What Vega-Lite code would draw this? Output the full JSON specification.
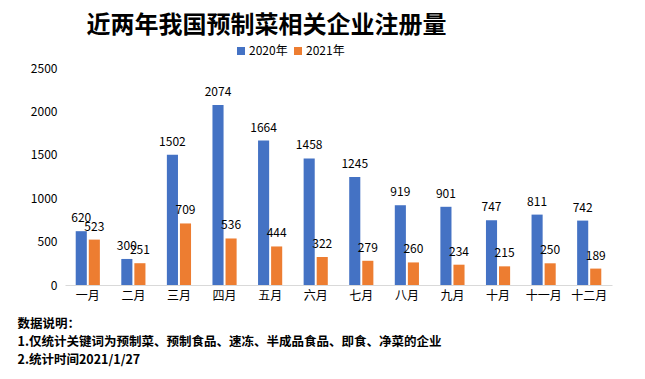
{
  "$schema": "https://vega.github.io/schema/vega-lite/v6.json",
  "width": 547,
  "height": 217,
  "autosize": {"type": "none"},
  "padding": {"left": 65, "top": 68, "right": 33, "bottom": 94},
  "background": "white",
  "config": {
    "font": "Noto Sans CJK SC",
    "view": {"stroke": null}
  },
  "title": {
    "text": "近两年我国预制菜相关企业注册量",
    "fontSize": 24,
    "fontWeight": "bold",
    "color": "#000000",
    "anchor": "middle",
    "dx": -72,
    "offset": 7
  },
  "data": {
    "values": [
      {"month": "一月", "series": "2020年", "value": 620},
      {"month": "二月", "series": "2020年", "value": 300},
      {"month": "三月", "series": "2020年", "value": 1502},
      {"month": "四月", "series": "2020年", "value": 2074},
      {"month": "五月", "series": "2020年", "value": 1664},
      {"month": "六月", "series": "2020年", "value": 1458},
      {"month": "七月", "series": "2020年", "value": 1245},
      {"month": "八月", "series": "2020年", "value": 919},
      {"month": "九月", "series": "2020年", "value": 901},
      {"month": "十月", "series": "2020年", "value": 747},
      {"month": "十一月", "series": "2020年", "value": 811},
      {"month": "十二月", "series": "2020年", "value": 742},
      {"month": "一月", "series": "2021年", "value": 523},
      {"month": "二月", "series": "2021年", "value": 251},
      {"month": "三月", "series": "2021年", "value": 709},
      {"month": "四月", "series": "2021年", "value": 536},
      {"month": "五月", "series": "2021年", "value": 444},
      {"month": "六月", "series": "2021年", "value": 322},
      {"month": "七月", "series": "2021年", "value": 279},
      {"month": "八月", "series": "2021年", "value": 260},
      {"month": "九月", "series": "2021年", "value": 234},
      {"month": "十月", "series": "2021年", "value": 215},
      {"month": "十一月", "series": "2021年", "value": 250},
      {"month": "十二月", "series": "2021年", "value": 189}
    ]
  },
  "encoding": {
    "x": {
      "field": "month",
      "type": "nominal",
      "sort": ["一月", "二月", "三月", "四月", "五月", "六月", "七月", "八月", "九月", "十月", "十一月", "十二月"],
      "scale": {"paddingInner": 0.47, "paddingOuter": 0.235},
      "axis": {
        "title": ["数据说明：", "1.仅统计关键词为预制菜、预制食品、速冻、半成品食品、即食、净菜的企业", "2.统计时间2021/1/27"],
        "titleFontSize": 12.5,
        "titleFontWeight": "bold",
        "titleColor": "#000000",
        "titleAlign": "left",
        "titleAnchor": "start",
        "titleBaseline": "top",
        "titleX": -48,
        "titleY": 32,
        "titleLineHeight": 18,
        "labelAngle": 0,
        "labelFontSize": 12,
        "labelColor": "#000000",
        "labelPadding": 5,
        "ticks": false,
        "domainColor": "#d9d9d9",
        "domainWidth": 1
      }
    },
    "xOffset": {
      "field": "series",
      "type": "nominal",
      "scale": {"paddingInner": 0.15}
    },
    "y": {
      "field": "value",
      "type": "quantitative",
      "scale": {"domain": [0, 2500]},
      "axis": {
        "title": null,
        "values": [0, 500, 1000, 1500, 2000, 2500],
        "format": "d",
        "grid": false,
        "domain": false,
        "ticks": false,
        "labelFontSize": 12,
        "labelColor": "#000000",
        "labelPadding": 8
      }
    }
  },
  "layer": [
    {
      "mark": {"type": "bar"},
      "encoding": {
        "color": {
          "field": "series",
          "type": "nominal",
          "scale": {"domain": ["2020年", "2021年"], "range": ["#4472C4", "#ED7D31"]},
          "legend": {
            "title": null,
            "orient": "none",
            "direction": "horizontal",
            "legendX": 170,
            "legendY": -23,
            "symbolType": "square",
            "symbolSize": 64,
            "symbolStrokeWidth": 0,
            "labelFontSize": 12,
            "labelColor": "#000000",
            "labelOffset": 2,
            "columnPadding": 4
          }
        }
      }
    },
    {
      "mark": {"type": "text", "baseline": "bottom", "dy": -6, "fontSize": 12, "color": "#000000"},
      "encoding": {
        "text": {"field": "value", "type": "quantitative"}
      }
    }
  ]
}
